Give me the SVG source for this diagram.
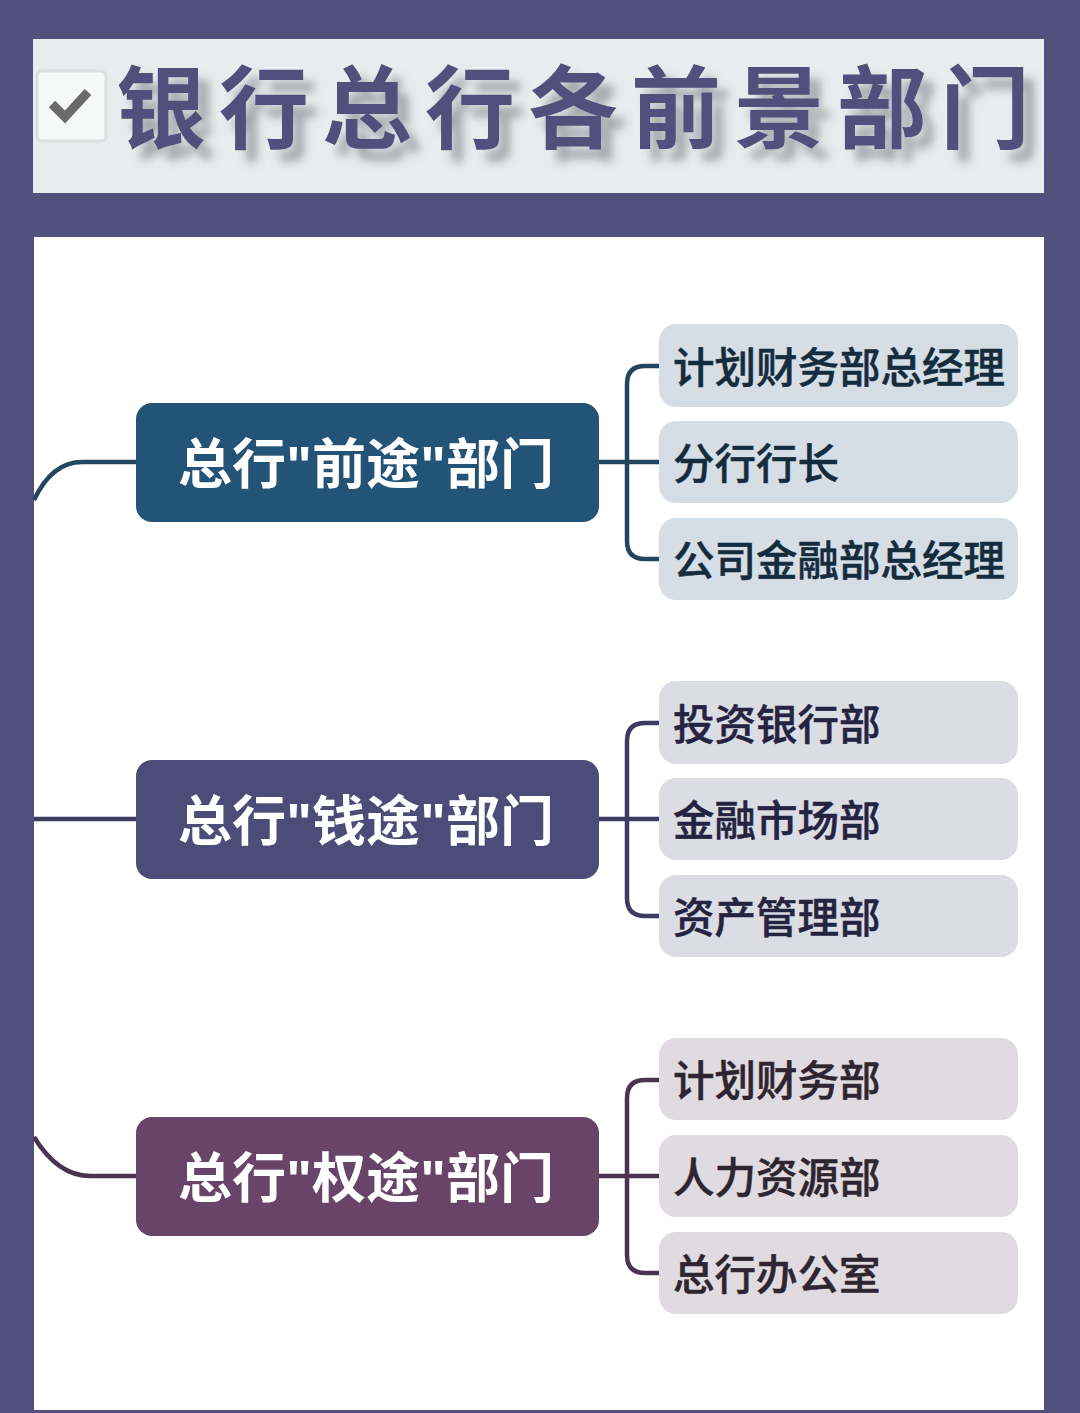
<svg xmlns="http://www.w3.org/2000/svg" width="1080" height="1413" viewBox="0 0 1080 1413">
<defs>
<filter id="ts" x="-5%" y="-30%" width="110%" height="170%"><feGaussianBlur in="SourceAlpha" stdDeviation="5" result="b"/><feOffset in="b" dx="11" dy="12" result="o"/><feFlood flood-color="#5f636c" flood-opacity="0.5"/><feComposite in2="o" operator="in" result="s"/><feMerge><feMergeNode in="s"/><feMergeNode in="SourceGraphic"/></feMerge></filter>
</defs>
<style>
text{font-family:"Liberation Sans","Noto Sans CJK SC",sans-serif}
.title{font-family:"Noto Sans CJK SC",sans-serif;font-size:90px;font-weight:700;letter-spacing:13px;fill:#52507d}
.main{font-size:54px;font-weight:700;fill:#fff}
.sub{font-size:41.5px;font-weight:500;font-family:"Noto Sans CJK SC",sans-serif;stroke-width:.5}
.c{fill:none;stroke-width:4.5}
.ra{stroke:#23465f}.rb{stroke:#3e3b60}.rc{stroke:#4a3450}
.a{fill:#d5dee5}.b{fill:#dcdde4}.c1{fill:#e0dbe0}
.ta{fill:#152c3d;stroke:#152c3d}.tb{fill:#25233f;stroke:#25233f}.tc{fill:#2e2530;stroke:#2e2530}
</style>
<rect width="1080" height="1413" fill="#52507d"/>
<rect x="33" y="39" width="1011" height="154" fill="#e9ecee"/>
<rect x="34" y="237" width="1010" height="1173" fill="#fff"/>
<g id="title">
<rect x="37" y="71" width="69" height="70" rx="5" fill="#f6f7f7" stroke="#dcdedd" stroke-width="3"/>
<path d="M52 104L65 117L88 92" fill="none" stroke="#6a6a6a" stroke-width="9"/>
<text class="title" x="116" y="141" filter="url(#ts)">银行总行各前景部门</text>
</g>
<g id="connectors">
<path class="c ra" d="M34 500Q52 462 82 462H136"/><path class="c ra" d="M598 462H660M660 366H645Q627 366 627 384V541Q627 559 645 559H660"/>
<path class="c rb" d="M34 819H136"/><path class="c rb" d="M598 819H660M660 723H645Q627 723 627 741V898Q627 916 645 916H660"/>
<path class="c rc" d="M34 1137Q58 1176 90 1176H136"/><path class="c rc" d="M598 1176H660M660 1080H645Q627 1080 627 1098V1255Q627 1273 645 1273H660"/>
</g>
<g id="main1"><rect x="136" y="403" width="463" height="119" rx="16" fill="#235376"/><text class="main" x="178" y="484" textLength="376">总行"前途"部门</text></g>
<g id="main2"><rect x="136" y="760" width="463" height="119" rx="16" fill="#4d4b78"/><text class="main" x="178" y="841" textLength="376">总行"钱途"部门</text></g>
<g id="main3"><rect x="136" y="1117" width="463" height="119" rx="16" fill="#674468"/><text class="main" x="178" y="1198" textLength="376">总行"权途"部门</text></g>
<g id="a1"><rect class="a" x="659" y="324" width="359" height="83" rx="17"/><text class="sub ta" x="673" y="383">计划财务部总经理</text></g>
<g id="a2"><rect class="a" x="659" y="421" width="359" height="82" rx="17"/><text class="sub ta" x="673" y="479">分行行长</text></g>
<g id="a3"><rect class="a" x="659" y="518" width="359" height="82" rx="17"/><text class="sub ta" x="673" y="576">公司金融部总经理</text></g>
<g id="b1"><rect class="b" x="659" y="681" width="359" height="83" rx="17"/><text class="sub tb" x="673" y="740">投资银行部</text></g>
<g id="b2"><rect class="b" x="659" y="778" width="359" height="82" rx="17"/><text class="sub tb" x="673" y="836">金融市场部</text></g>
<g id="b3"><rect class="b" x="659" y="875" width="359" height="82" rx="17"/><text class="sub tb" x="673" y="933">资产管理部</text></g>
<g id="c1"><rect class="c1" x="659" y="1038" width="359" height="82" rx="17"/><text class="sub tc" x="673" y="1096">计划财务部</text></g>
<g id="c2"><rect class="c1" x="659" y="1135" width="359" height="82" rx="17"/><text class="sub tc" x="673" y="1193">人力资源部</text></g>
<g id="c3"><rect class="c1" x="659" y="1232" width="359" height="82" rx="17"/><text class="sub tc" x="673" y="1290">总行办公室</text></g>
</svg>
